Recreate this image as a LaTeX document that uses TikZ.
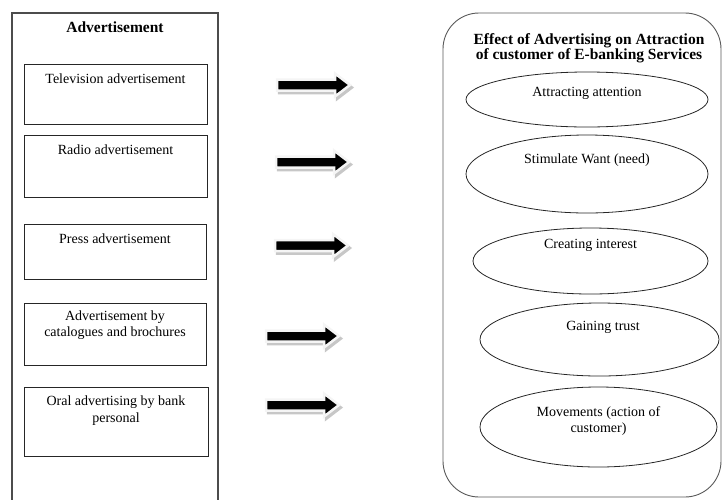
\documentclass[tikz,border=0pt]{standalone}
\usepackage{fontspec}
\setmainfont{Liberation Serif}
\usetikzlibrary{shapes.geometric}
\begin{document}
\begin{tikzpicture}[x=1pt,y=-1pt,
  txt/.style={font=\fontsize{14}{16.5}\selectfont, align=center, inner sep=0pt},
  ttl/.style={font=\fontsize{15.5}{15.5}\selectfont\bfseries, align=center, inner sep=0pt},
  outerbox/.style={draw=black!70, line width=1.1pt},
  itembox/.style={draw=black!85, line width=1pt},
  effbox/.style={draw=black!65, line width=0.9pt, rounded corners=36pt},
  oval/.style={draw=black!85, line width=0.8pt, ellipse, inner sep=0pt},
  arrshadow/.style={fill=black!22, draw=black!22, line width=2.5pt, line join=miter},
  arrbody/.style={fill=black, draw=black!4, line width=2.5pt, line join=miter},
  blkarrow/.pic={
    \path[arrshadow] (2,2.5) -- ++(0,-5.5) -- ++(58,0) -- ++(0,-6) -- ++(15,11.5) -- ++(-15,11.5) -- ++(0,-6) -- ++(-58,0) -- cycle;
    \path[arrbody] (0,5.5) -- (0,-5.5) -- (58,-5.5) -- (58,-11.5) -- (73,0) -- (58,11.5) -- (58,5.5) -- cycle;
  }]
\useasboundingbox (0,0) rectangle (723,499);
\clip (0,0) rectangle (723,499);

% left column
\draw[outerbox] (12,502) -- (12,13) -- (218,13) -- (218,502);
\node[ttl] (advt) at (115,27) {Advertisement};

\node[itembox, minimum width=183pt, minimum height=60pt, inner sep=0pt] (b1) at (115.5,94) {};
\node[txt] (b1t) at (115.5,79) {Television advertisement};
\node[itembox, minimum width=183pt, minimum height=62pt, inner sep=0pt] (b2) at (115.5,166) {};
\node[txt] (b2t) at (115.5,150) {Radio advertisement};
\node[itembox, minimum width=182pt, minimum height=55pt, inner sep=0pt] (b3) at (115,251.5) {};
\node[txt] (b3t) at (115,239) {Press advertisement};
\node[itembox, minimum width=182pt, minimum height=62pt, inner sep=0pt] (b4) at (115,334) {};
\node[txt] (b4t) at (115,325) {Advertisement by\\catalogues and brochures};
\node[itembox, minimum width=184pt, minimum height=69pt, inner sep=0pt] (b5) at (116,421.5) {};
\node[txt] (b5t) at (116,410.5) {Oral advertising by bank\\personal};

% arrows
\pic at (277,85) {blkarrow};
\pic at (276,162) {blkarrow};
\pic at (275,245.5) {blkarrow};
\pic at (266,336) {blkarrow};
\pic at (266,405) {blkarrow};

% right column
\draw[effbox] (443,497) rectangle (721,13);
\node[ttl, font=\fontsize{15.5}{15}\selectfont\bfseries] (efft) at (589,48.5) {Effect of Advertising on Attraction\\of customer of E-banking Services};

\node[oval, minimum width=242pt, minimum height=55pt] (e1) at (587,99.5) {};
\node[txt] (e1t) at (587,93) {Attracting attention};
\node[oval, minimum width=242pt, minimum height=78pt] (e2) at (587,174) {};
\node[txt] (e2t) at (587,160) {Stimulate Want (need)};
\node[oval, minimum width=235pt, minimum height=66pt] (e3) at (590.5,261) {};
\node[txt] (e3t) at (590.5,245) {Creating interest};
\node[oval, minimum width=239pt, minimum height=73pt] (e4) at (599.5,339.5) {};
\node[txt] (e4t) at (603,327) {Gaining trust};
\node[oval, minimum width=237pt, minimum height=80pt] (e5) at (598.5,427) {};
\node[txt] (e5t) at (598.5,421) {Movements (action of\\customer)};
\end{tikzpicture}
\end{document}
